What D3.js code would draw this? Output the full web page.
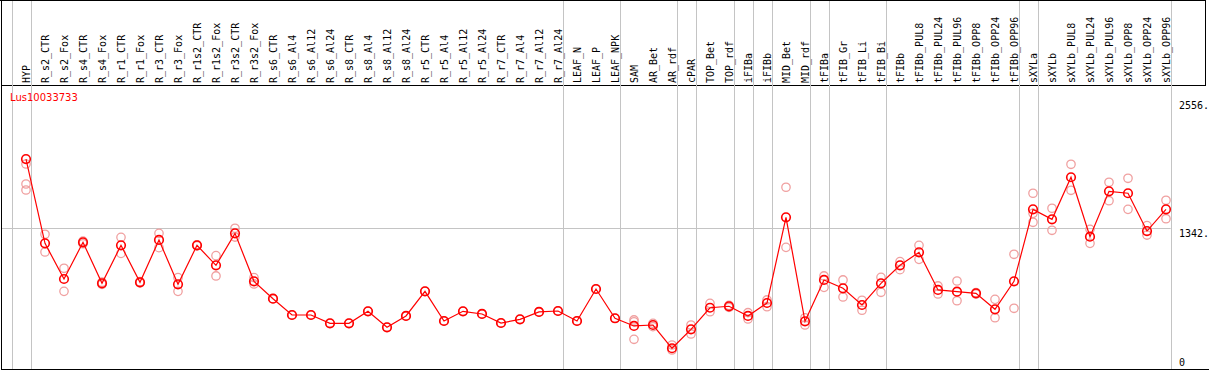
<!DOCTYPE html>
<html>
<head>
<meta charset="utf-8">
<script src="https://cdn.jsdelivr.net/npm/d3@7"></script>
<style>
  body { margin: 0; background: #fff; }
  svg { display: block; }
</style>
</head>
<body>
<div id="chart"></div>
<script>
// Categories (sample names)
const categories = ["HYP", "R_s2_CTR", "R_s2_Fox", "R_s4_CTR", "R_s4_Fox", "R_r1_CTR", "R_r1_Fox",
    "R_r3_CTR", "R_r3_Fox", "R_r1s2_CTR", "R_r1s2_Fox", "R_r3s2_CTR", "R_r3s2_Fox",
    "R_s6_CTR", "R_s6_Al4", "R_s6_Al12", "R_s6_Al24", "R_s8_CTR", "R_s8_Al4", "R_s8_Al12", "R_s8_Al24",
    "R_r5_CTR", "R_r5_Al4", "R_r5_Al12", "R_r5_Al24", "R_r7_CTR", "R_r7_Al4", "R_r7_Al12", "R_r7_Al24",
    "LEAF_N", "LEAF_P", "LEAF_NPK", "SAM", "AR_Bet", "AR_rdf", "cPAR", "TOP_Bet", "TOP_rdf",
    "iFIBa", "iFIBb", "MID_Bet", "MID_rdf", "tFIBa", "tFIB_Gr", "tFIB_Li", "tFIB_Bi", "tFIBb",
    "tFIBb_PUL8", "tFIBb_PUL24", "tFIBb_PUL96", "tFIBb_OPP8", "tFIBb_OPP24", "tFIBb_OPP96",
    "sXYLa", "sXYLb", "sXYLb_PUL8", "sXYLb_PUL24", "sXYLb_PUL96", "sXYLb_OPP8", "sXYLb_OPP24", "sXYLb_OPP96"];

// Mean expression per sample
const meanValues = [1995, 1194, 855, 1204, 814, 1175, 824, 1226, 805, 1175, 985, 1289, 833,
    668, 513, 513, 434, 434, 548, 396, 504, 738, 456, 548, 523, 437, 472, 542, 551,
    456, 760, 482, 409, 418, 197, 377, 582, 596, 504, 627, 1441, 453, 846, 767, 608, 814, 985,
    1109, 751, 735, 719, 567, 833, 1517, 1422, 1822, 1257, 1688, 1670, 1311, 1517];

// Individual replicates per sample
const replicates = [[1948, 1758, 1701], [1280, 1112], [957, 738], [1215, 1190], [825, 805],
    [1251, 1099], [830, 818], [1289, 1153], [868, 738], [1180, 1170], [1077, 884], [1337, 1254], [868, 808],
    [668], [513], [513], [434], [434], [548], [396], [504], [738], [456], [548], [523], [437], [472], [542], [551],
    [456], [760], [482], [466, 449, 282], [402, 434], [228, 181], [418, 333], [624, 544], [605, 585],
    [535, 475], [656, 592], [1727, 1156], [487, 418], [884, 776], [846, 684], [653, 558], [871, 729],
    [1020, 944], [1175, 1042], [789, 713], [836, 649], [725, 713], [662, 487], [1090, 577],
    [1670, 1479, 1394], [1527, 1318], [1945, 1698], [1327, 1194], [1774, 1599], [1812, 1517],
    [1362, 1273], [1603, 1428]];

// Group boundaries: a separator follows these sample indices
const groupEnds = [-1, 0, 28, 31, 34, 35, 37, 38, 39, 41, 42, 45, 52, 53, 60];

// Right axis ticks
const tickValues = [0, 1342, 2556];
const tickLabels = ["0", "1342.", "2556."];

const geneName = "Lus10033733";

const W = 1209, H = 370;
const headerBottom = 85.5, plotBottom = 369, plotTop = 100;

const svg = d3.select("#chart")
    .append("svg")
    .attr("width", W)
    .attr("height", H)
    .style("font-family", "'DejaVu Sans Mono', monospace");

const x = d3.scalePoint()
    .domain(categories)
    .range([26, 1166]);

const y = d3.scaleLinear()
    .domain([0, 2556])
    .range([plotBottom, plotTop]);

const step = x.step();
const sepX = k => (k < 0 ? x(categories[0]) - step : x(categories[k])) + 4.7;

// Frame
svg.append("line").attr("x1", 0).attr("x2", 1206).attr("y1", 0.5).attr("y2", 0.5)
    .attr("stroke", "#000").attr("stroke-width", 1);
svg.append("line").attr("x1", 1.5).attr("x2", 1.5).attr("y1", 0).attr("y2", plotBottom + 0.5)
    .attr("stroke", "#000").attr("stroke-width", 1);
svg.append("line").attr("x1", 1205.5).attr("x2", 1205.5).attr("y1", 0).attr("y2", headerBottom)
    .attr("stroke", "#000").attr("stroke-width", 1);
svg.append("line").attr("x1", 1).attr("x2", 1206).attr("y1", headerBottom).attr("y2", headerBottom)
    .attr("stroke", "#000").attr("stroke-width", 1);
svg.append("line").attr("x1", 1).attr("x2", 1209).attr("y1", plotBottom + 0.5).attr("y2", plotBottom + 0.5)
    .attr("stroke", "#000").attr("stroke-width", 1);

// Group separators
svg.selectAll(".sep")
    .data(groupEnds)
    .enter().append("line")
    .attr("class", "sep")
    .attr("x1", d => Math.round(sepX(d)) + 0.5)
    .attr("x2", d => Math.round(sepX(d)) + 0.5)
    .attr("y1", 1)
    .attr("y2", plotBottom)
    .attr("stroke", "#c4c4c4")
    .attr("stroke-width", 1);

// Horizontal reference line at the middle tick
svg.append("line")
    .attr("x1", 2)
    .attr("x2", sepX(60))
    .attr("y1", Math.round(y(tickValues[1])) + 0.5)
    .attr("y2", Math.round(y(tickValues[1])) + 0.5)
    .attr("stroke", "#c4c4c4")
    .attr("stroke-width", 1);

// Category labels
svg.selectAll(".cat")
    .data(categories)
    .enter().append("text")
    .attr("class", "cat")
    .attr("transform", d => `translate(${x(d)},${headerBottom - 2.5}) rotate(-90)`)
    .attr("text-anchor", "start")
    .attr("dy", "0.35em")
    .attr("font-size", 10)
    .attr("fill", "#000")
    .text(d => d);

// Right axis labels
svg.selectAll(".tick-label")
    .data(tickValues)
    .enter().append("text")
    .attr("class", "tick-label")
    .attr("x", 1179)
    .attr("y", d => d === 0 ? y(d) - 3 : y(d) + 9)
    .attr("font-size", 10)
    .attr("fill", "#000")
    .text((d, i) => tickLabels[i]);

// Replicate points
const repPoints = [];
replicates.forEach((reps, i) => reps.forEach(v => repPoints.push({ c: categories[i], v: v })));

svg.selectAll(".rep")
    .data(repPoints)
    .enter().append("circle")
    .attr("class", "rep")
    .attr("cx", d => x(d.c))
    .attr("cy", d => y(d.v))
    .attr("r", 4.2)
    .attr("fill", "none")
    .attr("stroke", "#f0a0a0")
    .attr("stroke-width", 1.3);

// Mean line
svg.append("path")
    .datum(meanValues)
    .attr("fill", "none")
    .attr("stroke", "#ff0000")
    .attr("stroke-width", 1.2)
    .attr("d", d3.line()
        .x((d, i) => x(categories[i]))
        .y(d => y(d)));

// Mean points
svg.selectAll(".mean")
    .data(meanValues)
    .enter().append("circle")
    .attr("class", "mean")
    .attr("cx", (d, i) => x(categories[i]))
    .attr("cy", d => y(d))
    .attr("r", 4.3)
    .attr("fill", "none")
    .attr("stroke", "#ff0000")
    .attr("stroke-width", 1.6);

// Gene name
svg.append("text")
    .attr("x", 10)
    .attr("y", 101)
    .attr("font-family", "'DejaVu Sans', sans-serif")
    .attr("font-size", 10)
    .attr("fill", "#ff0000")
    .text(geneName);
</script>
</body>
</html>
